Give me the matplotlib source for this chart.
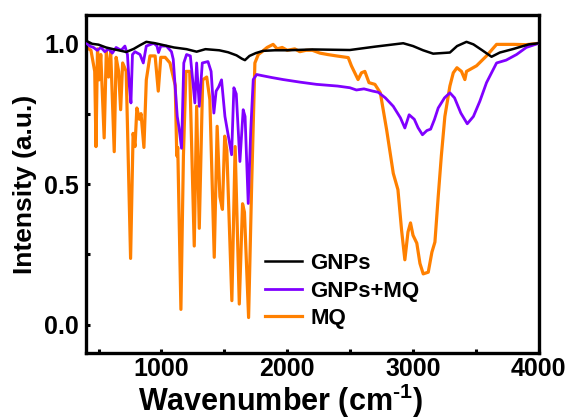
import matplotlib
matplotlib.use('Agg')
import matplotlib.pyplot as plt
from matplotlib.ticker import MultipleLocator

# FTIR spectra, (wavenumber, normalised intensity)
gnps_w = [405, 450, 500, 560, 617, 660, 720, 780, 830, 880, 950, 1000, 1100, 1200,
          1280, 1350, 1460, 1530, 1597, 1640, 1664, 1700, 1750, 1809, 1900, 2000,
          2200, 2498, 2700, 2922, 3000, 3080, 3160, 3293, 3350, 3425, 3480, 3550,
          3624, 3690, 3800, 3920, 4000]
gnps_i = [1.008, 0.998, 0.995, 0.985, 0.979, 0.975, 0.969, 0.98, 0.993, 1.005, 1.0,
          0.995, 0.985, 0.979, 0.97, 0.979, 0.975, 0.968, 0.957, 0.945, 0.94, 0.955,
          0.965, 0.973, 0.975, 0.975, 0.978, 0.976, 0.988, 1.0, 0.99, 0.975, 0.963,
          0.967, 0.99, 1.005, 0.996, 0.975, 0.952, 0.967, 0.98, 0.996, 1.0]

mix_w = [405, 430, 460, 490, 520, 550, 580, 610, 640, 680, 710, 730, 745, 758, 770,
         790, 830, 856, 880, 940, 965, 977, 995, 1040, 1080, 1094, 1126, 1140, 1160,
         1178, 1200, 1230, 1266, 1280, 1301, 1325, 1370, 1395, 1417, 1435, 1455, 1478,
         1505, 1558, 1576, 1595, 1624, 1650, 1665, 1690, 1710, 1730, 1757, 1800, 1880,
         1968, 2100, 2233, 2400, 2498, 2550, 2610, 2680, 2723, 2780, 2843, 2900, 2935,
         2969, 3010, 3040, 3075, 3110, 3140, 3170, 3200, 3250, 3293, 3330, 3380, 3431,
         3480, 3531, 3584, 3664, 3740, 3823, 3900, 4000]
mix_i = [1.0, 0.99, 0.985, 0.975, 0.985, 0.97, 0.98, 0.965, 0.985, 0.975, 0.99, 0.96,
         0.85, 0.788, 0.96, 0.97, 0.96, 0.93, 0.99, 1.0, 0.99, 0.967, 0.99, 0.99, 0.97,
         0.943, 0.74, 0.70, 0.627, 0.93, 0.96, 0.955, 0.788, 0.93, 0.776, 0.93, 0.935,
         0.90, 0.752, 0.83, 0.845, 0.87, 0.74, 0.604, 0.842, 0.82, 0.58, 0.764, 0.74,
         0.431, 0.69, 0.871, 0.889, 0.885, 0.878, 0.871, 0.862, 0.854, 0.848, 0.842,
         0.834, 0.838, 0.83, 0.826, 0.806, 0.776, 0.735, 0.699, 0.746, 0.73, 0.70,
         0.675, 0.69, 0.695, 0.729, 0.77, 0.806, 0.824, 0.806, 0.752, 0.714, 0.74,
         0.794, 0.86, 0.93, 0.94, 0.96, 0.985, 1.0]

mq_w = [405, 440, 470, 480, 492, 505, 518, 545, 562, 580, 597, 625, 640, 660, 676,
        692, 720, 755, 775, 790, 805, 825, 838, 861, 880, 909, 950, 975, 995, 1030,
        1068, 1110, 1122, 1130, 1155, 1175, 1195, 1225, 1261, 1280, 1301, 1328, 1360,
        1385, 1420, 1443, 1465, 1485, 1503, 1520, 1560, 1586, 1619, 1645, 1660, 1693,
        1718, 1743, 1770, 1800, 1840, 1888, 1920, 1960, 2000, 2060, 2100, 2150, 2200,
        2260, 2320, 2392, 2485, 2510, 2563, 2590, 2617, 2650, 2697, 2740, 2790, 2843,
        2880, 2909, 2935, 2960, 2980, 3000, 3030, 3055, 3081, 3121, 3150, 3174, 3200,
        3225, 3253, 3293, 3320, 3349, 3385, 3412, 3425, 3505, 3584, 3664, 3800, 3900,
        4000]
mq_i = [0.985, 0.975, 0.90, 0.633, 0.98, 0.87, 0.96, 0.664, 0.97, 0.88, 0.97, 0.615,
        0.95, 0.90, 0.764, 0.93, 0.90, 0.236, 0.68, 0.633, 0.77, 0.73, 0.75, 0.63,
        0.87, 0.955, 0.955, 0.83, 0.95, 0.95, 0.93, 0.85, 0.60, 0.63, 0.055, 0.60,
        0.90, 0.90, 0.28, 0.776, 0.343, 0.87, 0.88, 0.80, 0.24, 0.705, 0.455, 0.41,
        0.67, 0.62, 0.086, 0.633, 0.074, 0.43, 0.40, 0.026, 0.51, 0.93, 0.96, 0.97,
        0.985, 0.996, 0.98, 0.985, 0.975, 0.98, 0.97, 0.975, 0.975, 0.965, 0.96,
        0.955, 0.949, 0.92, 0.871, 0.895, 0.90, 0.86, 0.854, 0.824, 0.693, 0.538,
        0.48, 0.336, 0.231, 0.33, 0.362, 0.318, 0.29, 0.218, 0.181, 0.187, 0.258,
        0.294, 0.455, 0.60, 0.74, 0.848, 0.895, 0.913, 0.90, 0.871, 0.90, 0.92, 0.955,
        0.996, 0.996, 0.995, 1.0]

plt.rcParams['font.family'] = ['Liberation Sans', 'DejaVu Sans']
plt.rcParams['font.weight'] = 'bold'
plt.rcParams['mathtext.fontset'] = 'custom'
plt.rcParams['mathtext.rm'] = 'Liberation Sans:bold'
plt.rcParams['mathtext.it'] = 'Liberation Sans:bold'
plt.rcParams['mathtext.bf'] = 'Liberation Sans:bold'

fig = plt.figure(figsize=(5.69, 4.19), dpi=100)
ax = fig.add_axes([0.151, 0.1575, 0.796, 0.8065])

l3, = ax.plot(mq_w, mq_i, color='#ff8000', lw=2.3, zorder=2)
l2, = ax.plot(mix_w, mix_i, color='#8000ff', lw=2.0, zorder=3)
l1, = ax.plot(gnps_w, gnps_i, color='black', lw=1.8, zorder=4)

ax.set_xlim(400, 4000)
ax.set_ylim(-0.1, 1.1)
ax.xaxis.set_major_locator(MultipleLocator(1000))
ax.xaxis.set_minor_locator(MultipleLocator(500))
ax.yaxis.set_major_locator(MultipleLocator(0.5))
ax.yaxis.set_minor_locator(MultipleLocator(0.25))
ax.tick_params(which='both', direction='in', width=2.2, length=3, labelsize=18, pad=5)
ax.tick_params(axis='x', which='both', pad=3)
ax.tick_params(which='minor', labelleft=False, labelbottom=False)
for s in ax.spines.values():
    s.set_linewidth(2.4)

ax.set_xlabel('Wavenumber (cm$^{\\text{-1}}$)', fontsize=22, fontweight='bold')
ax.xaxis.set_label_coords(0.43, -0.086, transform=ax.transAxes)
ax.xaxis.label.set_va('top')
ax.set_ylabel('Intensity (a.u.)', fontsize=19, fontweight='bold', labelpad=5)

ax.legend([l1, l2, l3], ['GNPs', 'GNPs+MQ', 'MQ'], frameon=False, fontsize=16,
          loc='lower left', bbox_to_anchor=(0.375, 0.044), borderaxespad=0,
          handlelength=1.7, handletextpad=0.35, labelspacing=0.3)

fig.savefig('out.png', dpi=100)
